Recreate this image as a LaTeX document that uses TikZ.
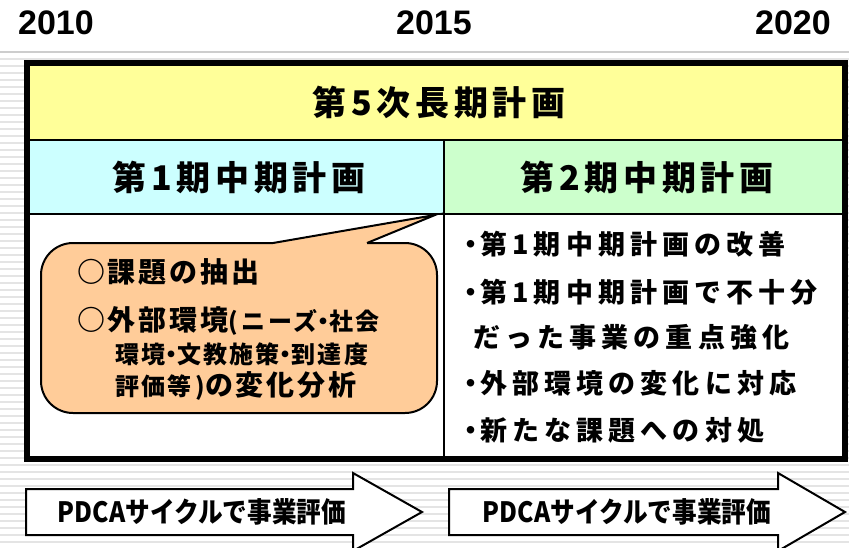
\documentclass[tikz,border=0pt]{standalone}
\usepackage{fontspec}
\newfontfamily\yearfont{Liberation Sans}
\newfontfamily\jptitle[LetterSpace=14]{Noto Sans CJK JP}
\newfontfamily\jplist[LetterSpace=19]{Noto Sans CJK JP}
\newfontfamily\jpcall[LetterSpace=10]{Noto Sans CJK JP}
\newfontfamily\jpsmall[LetterSpace=9]{Noto Sans CJK JP}
\newfontfamily\jparrow{Noto Sans CJK JP}
\definecolor{yellowc}{HTML}{FFFF99}
\definecolor{cyanc}{HTML}{CCFFFF}
\definecolor{greenc}{HTML}{CCFFCC}
\definecolor{peach}{HTML}{FFCC99}
\definecolor{stripe}{HTML}{E4E4E4}
\newcommand{\fs}[1]{\fontsize{#1}{#1}\selectfont}
\newcommand{\bul}{\kern-0.22em・\kern-0.15em}
\newcommand{\mdt}{\kern-0.25em・\kern-0.25em}
\tikzset{
  cell/.style={draw=black, line width=2pt, inner sep=0pt, anchor=north west},
  year/.style={font=\yearfont\bfseries\fs{34}, inner sep=0pt},
  head/.style={font=\jptitle\bfseries\fs{34}, inner sep=0pt},
  item/.style={font=\jplist\bfseries\fs{27}, inner sep=0pt, anchor=west},
  callline/.style={inner sep=0pt, anchor=west},
  arrowbox/.style={draw=black, line width=2pt, fill=white, line join=miter},
  arrowtext/.style={font=\jparrow\bfseries\fs{28}, inner sep=0pt, xscale=0.88},
}
\begin{document}
\begin{tikzpicture}[x=1pt, y=-1pt]
\useasboundingbox (0,0) rectangle (849,547);
\clip (0,0) rectangle (849,547);
\fill[white] (0,0) rectangle (849,547);
% background stripes
\foreach \i in {0,...,70} \draw[stripe, line width=2pt] (0,59+7*\i) -- (849,59+7*\i);
\draw[stripe!90!black, line width=2pt] (0,52) -- (849,52);
% years
\node[year] (y2010) at (56,23) {2010};
\node[year] (y2015) at (434,23) {2015};
\node[year] (y2020) at (793,23) {2020};
% cells
\node[cell, fill=yellowc, minimum width=816pt, minimum height=76pt] (long) at (27,63) {};
\node[cell, fill=cyanc, minimum width=416pt, minimum height=74pt] (mid1) at (27,139) {};
\node[cell, fill=greenc, minimum width=400pt, minimum height=74pt] (mid2) at (443,139) {};
\node[cell, fill=white, minimum width=416pt, minimum height=244pt] (low1) at (27,213) {};
\node[cell, fill=white, minimum width=400pt, minimum height=244pt] (low2) at (443,213) {};
\draw[line width=6pt] (long.north west) rectangle (low2.south east);
% headings
\node[head] (t0) at ([xshift=3pt]long.center) {第5次長期計画};
\node[head] (t1) at ([xshift=3pt]mid1.center) {第1期中期計画};
\node[head] (t2) at ([xshift=3pt]mid2.center) {第2期中期計画};
% callout
\coordinate (tailA) at (273,243);
\coordinate (tip) at (435,215);
\coordinate (tailB) at (367,243);
\draw[fill=peach, line width=2pt, rounded corners=32pt] (41,243) rectangle (437,413);
\fill[peach] (tailA) -- (tip) -- (tailB) -- (367,245.2) -- (273,245.2) -- cycle;
\draw[line width=2pt, line join=miter] (tailA) -- (tip) -- (tailB);
\node[callline] (c1) at (77,272) {\jpcall\bfseries\fs{28}○課題の抽出};
\node[callline] (c2) at (77,321) {\jpcall\bfseries\fs{28}○外部環境{\jpsmall\fs{24}(\,ニーズ\mdt 社会}};
\node[callline] (c3) at (115,354) {\jpsmall\bfseries\fs{24}環境\mdt 文教施策\mdt 到達度};
\node[callline] (c4) at (115,386) {\jpsmall\bfseries\fs{24}評価等\,){\jpcall\fs{28}の変化分析}};
% right list
\node[item] (r1) at (463,244) {\bul 第1期中期計画の改善};
\node[item] (r2) at (463,292) {\bul 第1期中期計画で不十分};
\node[item] (r3) at (473,337) {だった事業の重点強化};
\node[item] (r4) at (463,383) {\bul 外部環境の変化に対応};
\node[item] (r5) at (463,430) {\bul 新たな課題への対処};
% arrows
\draw[arrowbox] (26,489) -- (353,489) -- (353,473) -- (422,512) -- (353,551) -- (353,535) -- (26,535) -- cycle;
\node[arrowtext] (a1) at (202,512) {PDCAサイクルで事業評価};
\draw[arrowbox] (449,489) -- (778,489) -- (778,473) -- (845,512) -- (778,551) -- (778,535) -- (449,535) -- cycle;
\node[arrowtext] (a2) at (627,512) {PDCAサイクルで事業評価};
\end{tikzpicture}
\end{document}
